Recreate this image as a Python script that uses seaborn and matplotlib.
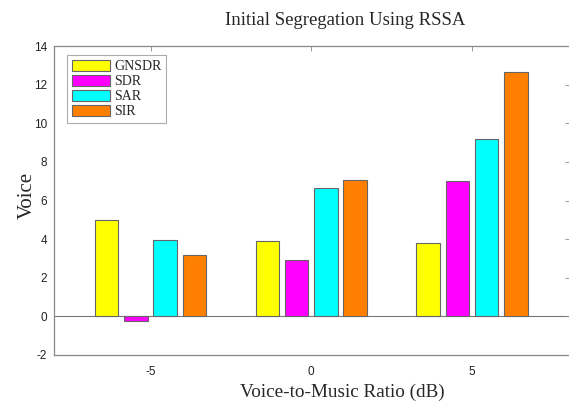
import matplotlib
matplotlib.use("Agg")
import matplotlib.pyplot as plt
import seaborn as sns
import pandas as pd

ratios = [-5, 0, 5]
metrics = ["GNSDR", "SDR", "SAR", "SIR"]
gnsdr = [5.0, 3.9, 3.8]
sdr = [-0.25, 2.92, 7.02]
sar = [3.95, 6.63, 9.17]
sir = [3.18, 7.05, 12.68]
colors = ["#FFFF00", "#FF00FF", "#00FFFF", "#FF8000"]
yticks = [-2, 0, 2, 4, 6, 8, 10, 12, 14]
xticks = [-5, 0, 5]

rows = []
for m, vals in zip(metrics, [gnsdr, sdr, sar, sir]):
    for r, v in zip(ratios, vals):
        rows.append({"ratio": r, "metric": m, "value": v})
df = pd.DataFrame(rows)

sns.set_style("white")
fig = plt.figure(figsize=(5.69, 4.01), dpi=100)
ax = fig.add_axes([0.095, 0.115, 0.907, 0.77])

sns.barplot(data=df, x="ratio", y="value", hue="metric", hue_order=metrics,
            palette=colors, native_scale=True, width=0.728, gap=0.2,
            edgecolor="#666666", linewidth=0.8, saturation=1, ax=ax, errorbar=None)

ax.axhline(0, color="#777777", lw=0.8, zorder=0.5)
ax.set_xlim(-8, 8.05)
ax.set_ylim(-2, 14)
ax.set_xticks(xticks)
ax.set_yticks(yticks)
ax.set_xticklabels([str(t) for t in xticks], family="Liberation Sans", fontsize=8.5, color="#222222")
ax.set_yticklabels([str(t) for t in yticks], family="Liberation Sans", fontsize=8.5, color="#222222")
ax.tick_params(axis="x", pad=8)
ax.tick_params(axis="y", pad=5)
ax.tick_params(direction="in", length=3.5, width=0.6, color="#888888", top=True, right=True)
for s in ax.spines.values():
    s.set_color("#888888")
    s.set_linewidth(0.9)

ax.set_xlabel("Voice-to-Music Ratio (dB)", family="Liberation Serif", fontsize=13.8)
ax.xaxis.label.set_va("center")
ax.xaxis.set_label_coords(0.558, -0.122)
ax.set_ylabel("Voice", family="Liberation Serif", fontsize=15)
ax.yaxis.label.set_va("center")
ax.yaxis.set_label_coords(-0.052, 0.518)
fig.text(0.607, 0.95, "Initial Segregation Using RSSA", family="Liberation Serif",
         fontsize=13.5, ha="center", va="center")

leg = ax.legend(loc="upper left", bbox_to_anchor=(0.025, 0.972), frameon=True,
                prop={"family": "Liberation Serif", "size": 10},
                handlelength=2.75, handleheight=0.85, labelspacing=0.12,
                handletextpad=0.3, borderpad=0.35, borderaxespad=0,
                fancybox=False, title=None)
leg.get_frame().set_edgecolor("#999999")
leg.get_frame().set_linewidth(0.8)

fig.savefig("out.png", dpi=100)
